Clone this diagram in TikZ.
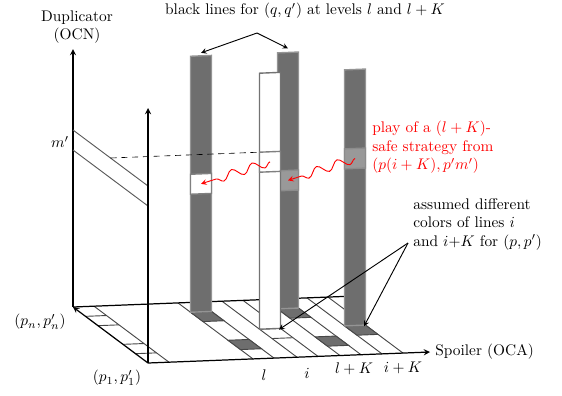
\documentclass[tikz,border=0pt]{standalone}
\usepackage{amsmath}
\usepackage{xcolor}
\usepackage{tikz}
\usetikzlibrary{arrows.meta, positioning, decorations.pathmorphing}

\begin{document}
\begin{tikzpicture}[
    x=0.65pt, y=-0.65pt,
    axis/.style={->, >=stealth, thick},
    pointer/.style={->, >=stealth, semithick},
    stripline/.style={draw=black!72, line width=0.6pt},
    cell/.style={fill=black!57, draw=black!72, line width=0.6pt},
    column/.style={fill=black!57, draw=black!42, line width=0.9pt},
    whitecolumn/.style={fill=white, draw=black!55, line width=0.9pt},
    band/.style={fill=black!40, draw=black!45, line width=0.9pt},
    gap/.style={fill=white, draw=black!50, line width=0.9pt},
    wallline/.style={draw=black!65, line width=0.6pt},
    play/.style={->, >=stealth, red, semithick, decorate, decoration={snake, amplitude=2.8pt, segment length=14pt, post length=5pt}},
    note/.style={align=left, inner sep=0pt}
]
\useasboundingbox (0,0) rectangle (562,395);

% Scene: (level, height, depth)
\begin{scope}[shift={(148,363)}, x={(0.65pt,0.02535pt)}, y={(0pt,0.65pt)}, z={(-48.75pt,36.4pt)}]

% Floor strips
\draw[stripline] (21,0,0) -- (21,0,1);
\draw[stripline] (0,0,0.1667) -- (21,0,0.1667) (0,0,0.3333) -- (21,0,0.3333);
\draw[stripline] (0,0,0.6667) -- (21,0,0.6667) (0,0,0.8333) -- (21,0,0.8333);
\draw[stripline] (105,0,0) -- (105,0,1) (126,0,0) -- (126,0,1);
\draw[stripline] (149,0,0) -- (149,0,1) (170,0,0) -- (170,0,1);
\draw[stripline] (192,0,0) -- (192,0,1) (213,0,0) -- (213,0,1);
\draw[stripline] (234,0,0) -- (234,0,1) (255,0,0) -- (255,0,1);

% Floor cells
\draw[cell] (105,0,0.1667) -- (126,0,0.1667) -- (126,0,0.3333) -- (105,0,0.3333) -- cycle;
\draw[cell] (105,0,0.6667) -- (126,0,0.6667) -- (126,0,0.8333) -- (105,0,0.8333) -- cycle;
\draw[stripline] (149,0,0.3333) -- (170,0,0.3333) (149,0,0.5) -- (170,0,0.5);
\draw[cell] (192,0,0.1667) -- (213,0,0.1667) -- (213,0,0.3333) -- (192,0,0.3333) -- cycle;
\draw[cell] (192,0,0.6667) -- (213,0,0.6667) -- (213,0,0.8333) -- (192,0,0.8333) -- cycle;
\draw[cell] (234,0,0.3333) -- (255,0,0.3333) -- (255,0,0.5) -- (234,0,0.5) -- cycle;

% Axes
\coordinate (origin) at (0,0,0);
\coordinate (corner) at (0,0,1);
\coordinate (spoilerend) at (282,0,0);
\draw[axis] (origin) -- (corner);
\draw[axis] (origin) -- (spoilerend);
\draw[axis] (corner) -- (282,0,1);
\draw[axis] (corner) -- (0,258,1);

% Level m' on the wall
\draw[wallline] (0,157,1) -- (0,157,0) (0,177,1) -- (0,177,0);

% Black lines for (q,q')
\draw[column] (105,0,0.8333) -- (126,0,0.8333) -- (126,256,0.8333) -- (105,256,0.8333) -- cycle;
\draw[gap] (105,118,0.8333) -- (126,118,0.8333) -- (126,138,0.8333) -- (105,138,0.8333) -- cycle;
\draw[column] (192,0,0.8333) -- (213,0,0.8333) -- (213,256,0.8333) -- (192,256,0.8333) -- cycle;
\draw[band] (192,118,0.8333) -- (213,118,0.8333) -- (213,138,0.8333) -- (192,138,0.8333) -- cycle;

\draw[dash pattern=on 4pt off 3pt] (0,177,0.5) -- (149,177,0.5);

% Lines i and i+K for (p,p')
\draw[whitecolumn] (149,0,0.5) -- (170,0,0.5) -- (170,256,0.5) -- (149,256,0.5) -- cycle;
\draw[gap] (149,157,0.5) -- (170,157,0.5) -- (170,177,0.5) -- (149,177,0.5) -- cycle;
\draw[column] (234,0,0.5) -- (255,0,0.5) -- (255,256,0.5) -- (234,256,0.5) -- cycle;
\draw[band] (234,157,0.5) -- (255,157,0.5) -- (255,177,0.5) -- (234,177,0.5) -- cycle;

\draw[axis] (origin) -- (0,255,0);

\coordinate (topL) at (115.5,259,0.8333);
\coordinate (topLK) at (202.5,260,0.8333);
\coordinate (gapL) at (115.5,128,0.8333);
\coordinate (bandLK) at (202.5,128,0.8333);
\coordinate (gapI) at (159.5,167,0.5);
\coordinate (bandIK) at (244.5,167,0.5);
\coordinate (baseI) at (167,0,0.48);
\coordinate (baseIK) at (252,0,0.48);
\end{scope}

% Red plays
\draw[play] (bandIK) -- (bandLK);
\draw[play] (gapI) -- (gapL);

% Labels
\node (blacklines) at (305,11) {black lines for $(q,q')$ at levels $l$ and $l+K$};
\coordinate (fork) at (257,33);
\draw[pointer] (fork) -- (topL);
\draw[pointer] (fork) -- (topLK);

\node[align=center] (duplicator) at (77,27) {Duplicator\\(OCN)};
\node (mlabel) at (60,142) {$m'$};
\node (pn) at (40,322) {$(p_n,p_n')$};
\node (p1) at (117,378) {$(p_1,p_1')$};
\node[right=0pt of spoilerend] (spoiler) {Spoiler (OCA)};

\node (labl) at (264,375) {$l$};
\node (labi) at (307,373) {$i$};
\node (lablK) at (354,369) {$l+K$};
\node (labiK) at (403,368) {$i+K$};

\node[note, red, anchor=north west] (playnote) at (372,121) {play of a $(l+K)$-\\safe strategy from\\$(p(i+K),p'm')$};

\node[note, anchor=north west] (colornote) at (413,198) {assumed different\\colors of lines $i$\\and $i{+}K$ for $(p,p')$};
\coordinate (colorfork) at (408,243);
\draw[pointer] (colorfork) -- (baseI);
\draw[pointer] (colorfork) -- (baseIK);

\end{tikzpicture}
\end{document}
